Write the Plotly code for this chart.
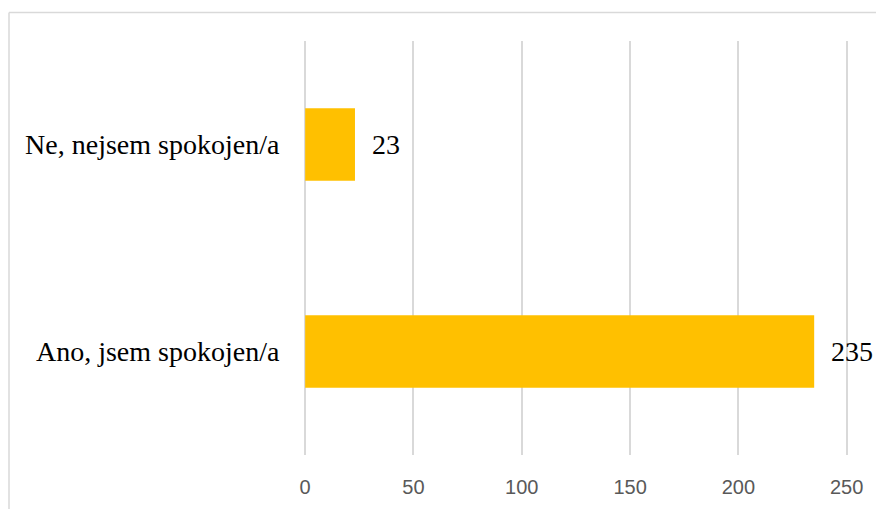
import plotly.graph_objects as go

kategorie = ["Ano, jsem spokojen/a", "Ne, nejsem spokojen/a"]
pocty = [235, 23]
osa_hodnoty = [0, 50, 100, 150, 200, 250]

fig = go.Figure()
fig.add_trace(go.Bar(
    x=pocty,
    y=kategorie,
    orientation="h",
    marker=dict(color="#FFC000", line=dict(width=0)),
    width=0.35,
    hoverinfo="x+y",
))

# popisky hodnot vpravo od sloupců
for k, p in zip(kategorie, pocty):
    fig.add_annotation(
        x=p, y=k, text=str(p), showarrow=False,
        xanchor="left", xshift=15,
        font=dict(family="Liberation Serif", size=28, color="#000000"),
    )

# rámeček grafu (pravá a spodní hrana jsou mimo obrázek)
fig.add_shape(type="line", xref="paper", yref="paper",
              x0=-0.5365, x1=2, y0=1.069, y1=1.069,
              line=dict(color="#d9d9d9", width=1.5))
fig.add_shape(type="line", xref="paper", yref="paper",
              x0=-0.5365, x1=-0.5365, y0=1.069, y1=-1,
              line=dict(color="#d9d9d9", width=1.5))

# stránka má okraj 8 px, proto je graf o 8 px menší
fig.update_layout(
    width=876, height=501,
    margin=dict(l=295, r=33, t=33, b=54),
    paper_bgcolor="white",
    plot_bgcolor="white",
    showlegend=False,
    xaxis=dict(
        range=[-1, 252],  # trochu víc, aby byly vidět krajní mřížky
        tickvals=osa_hodnoty,
        showgrid=True, gridcolor="#d9d9d9", gridwidth=1.5,
        zeroline=True, zerolinecolor="#d9d9d9", zerolinewidth=1.5,
        showline=False,
        ticks="outside", ticklen=14, tickcolor="rgba(0,0,0,0)",
        tickfont=dict(family="Liberation Sans", size=20, color="#595959"),
    ),
    yaxis=dict(
        categoryorder="array", categoryarray=kategorie,
        showgrid=False, zeroline=False, showline=False,
        ticks="outside", ticklen=17, tickcolor="rgba(0,0,0,0)",
        tickfont=dict(family="Liberation Serif", size=28, color="#000000"),
    ),
)

fig.write_html("out.html")
